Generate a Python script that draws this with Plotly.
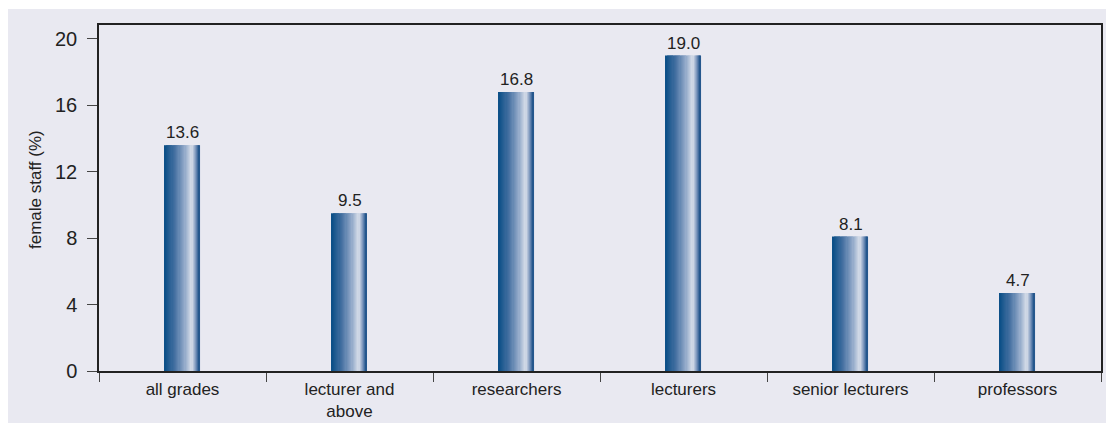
import plotly.graph_objects as go

# Share of female staff by grade
categories = ["all grades", "lecturer and<br>above", "researchers", "lecturers",
              "senior lecturers", "professors"]
female_pct = [13.6, 9.5, 16.8, 19.0, 8.1, 4.7]
y_ticks = [0, 4, 8, 12, 16, 20]

FONT = "Liberation Sans, Arial, sans-serif"
BG = "#e9e9f1"
TEXT = "#222222"

# Horizontal shading across each bar: dark navy -> pale highlight -> navy edge
BAR_W = 0.21
N_SLICES = 30
STOPS = [(0.00, (10, 78, 134)), (0.30, (70, 113, 162)), (0.56, (142, 166, 199)),
         (0.77, (214, 221, 233)), (0.89, (122, 149, 188)), (1.00, (22, 76, 133))]


def shade(t):
    for (t0, c0), (t1, c1) in zip(STOPS[:-1], STOPS[1:]):
        if t0 <= t <= t1:
            f = (t - t0) / (t1 - t0)
            r, g, b = (round(a + (b_ - a) * f) for a, b_ in zip(c0, c1))
            return f"rgb({r},{g},{b})"
    r, g, b = STOPS[-1][1]
    return f"rgb({r},{g},{b})"


fig = go.Figure()
step = BAR_W / N_SLICES
for i in range(N_SLICES):
    off = -BAR_W / 2 + i * step
    w = min(step * 1.6, BAR_W / 2 - off)
    fig.add_bar(
        x=categories, y=female_pct,
        width=w, offset=off,
        marker=dict(color=shade((i + 0.5) / N_SLICES), line=dict(width=0)),
        hoverinfo="skip", showlegend=False,
    )

for c, v in zip(categories, female_pct):
    fig.add_annotation(x=c, y=v, text=f"{v:.1f}", showarrow=False,
                       yanchor="bottom", yshift=1,
                       font=dict(family=FONT, size=17, color=TEXT))

# y-axis title placed by hand, slightly above the plot's vertical centre
fig.add_annotation(xref="paper", yref="paper", x=-64 / 1002, y=0.5 + 8 / 346,
                   xanchor="center", yanchor="middle", textangle=-90,
                   text="female staff (%)", showarrow=False,
                   font=dict(family=FONT, size=17, color=TEXT))

fig.update_layout(
    width=1106, height=423,
    margin=dict(l=99, r=5, t=25, b=52, autoexpand=False),
    paper_bgcolor=BG, plot_bgcolor=BG,
    barmode="overlay",
    font=dict(family=FONT, color=TEXT),
    xaxis=dict(
        type="category", range=[-0.5, 5.5], automargin=False,
        tickson="boundaries", ticks="outside", ticklen=9, tickwidth=1.3,
        tickcolor="#444444",
        showline=True, linecolor="#222222", linewidth=1.5, mirror=True,
        showgrid=False, zeroline=False, ticklabelstandoff=2,
        tickfont=dict(family=FONT, size=17, color=TEXT),
    ),
    yaxis=dict(
        range=[0, 20.84], tickvals=y_ticks, automargin=False,
        ticks="outside", ticklen=10, tickwidth=1.3, tickcolor="#444444",
        showline=True, linecolor="#222222", linewidth=1.5, mirror=True,
        showgrid=False, zeroline=False, ticklabelstandoff=6,
        tickfont=dict(family=FONT, size=20, color=TEXT),
    ),
    shapes=[
        # white frame strips along the top and left edges of the page
        dict(type="rect", xref="paper", yref="paper", layer="above",
             x0=-99 / 1002, x1=(1106 - 99) / 1002,
             y0=1 + 16 / 346, y1=1 + 25 / 346,
             fillcolor="white", line=dict(width=0)),
        dict(type="rect", xref="paper", yref="paper", layer="above",
             x0=-99 / 1002, x1=-91 / 1002,
             y0=-52 / 346, y1=1 + 25 / 346,
             fillcolor="white", line=dict(width=0)),
    ],
)

fig.write_html("out.html")
